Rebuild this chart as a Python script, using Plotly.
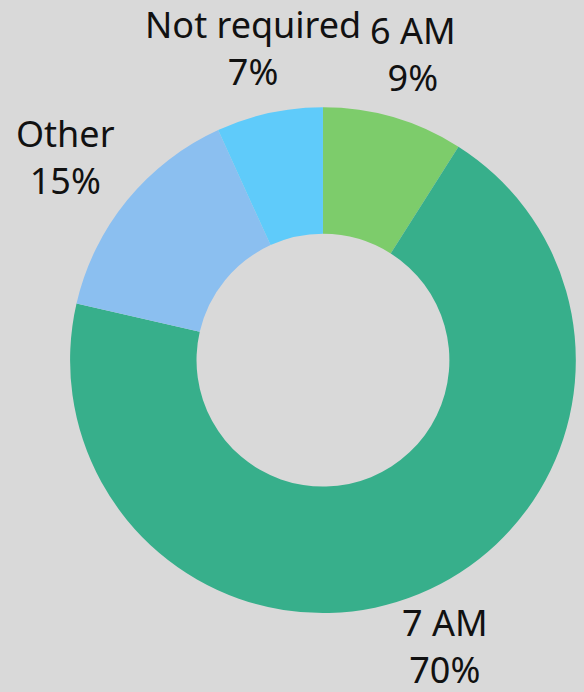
import math
import plotly.graph_objects as go

labels = ["6 AM", "7 AM", "Other", "Not required"]
values = [9.0, 69.6, 14.6, 6.8]
colors = ["#7dcc6b", "#37af8b", "#8bbff0", "#5fcbfa"]

W, H = 584, 692
dom_x = [0.12, 0.986]
dom_y = [0.114, 0.845]
font_size = 36

fig = go.Figure(go.Pie(
    labels=labels,
    values=values,
    hole=0.5,
    sort=False,
    direction="clockwise",
    rotation=0,
    domain=dict(x=dom_x, y=dom_y),
    marker=dict(colors=colors, line=dict(width=0)),
    textinfo="none",
    showlegend=False,
))

# labels sit just outside each slice, along its middle angle
total = sum(values)
r = min((dom_x[1] - dom_x[0]) * W, (dom_y[1] - dom_y[0]) * H) / 2
cx = (dom_x[0] + dom_x[1]) / 2
cy = (dom_y[0] + dom_y[1]) / 2
gap = 25
cum = 0
for lab, v in zip(labels, values):
    mid = math.radians(360 * (cum + v / 2) / total)
    cum += v
    s, c = math.sin(mid), math.cos(mid)
    w = min(0.6 * font_size * len(lab), 3 * font_size)  # rough text box size
    h = 2 * font_size
    fig.add_annotation(
        x=cx, y=cy, xref="paper", yref="paper",
        xshift=(r + gap) * s + s * w / 2,
        yshift=(r + gap) * c + c * h / 2 + 5,
        text=f"{lab}<br>{round(100 * v / total)}%",
        showarrow=False, xanchor="center", yanchor="middle",
        font=dict(family="Noto Sans", size=font_size, color="#111111"),
    )

fig.update_layout(
    width=W, height=H,
    paper_bgcolor="#d9d9d9",
    plot_bgcolor="#d9d9d9",
    margin=dict(l=0, r=0, t=0, b=0),
)

# drop the page margin so the grey fills the window
fig.write_html("out.html", config={"displayModeBar": False},
               post_script="document.body.style.margin='0';")
